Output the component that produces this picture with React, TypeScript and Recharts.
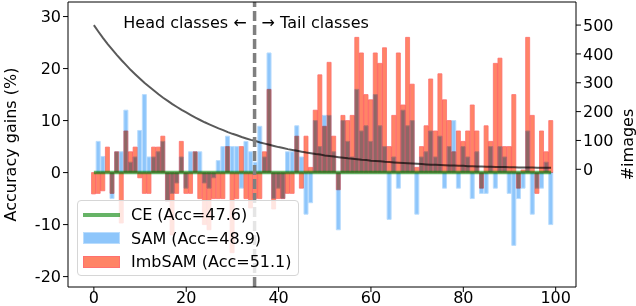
import React from 'react';
import { ComposedChart, Bar, Line, XAxis, YAxis, ReferenceLine } from 'recharts';

// per-class accuracy gains over CE (%)
const SAM_GAINS = [
  0, 6, 3.1, 0, -5, 4, 4, 12, 2, 3,
  8.1, 15, 3, 3, 4, 6, -5.5, -4, -2, 3,
  -3, 4, 4, 4, -2, -3, -1, 2.3, 5, 7,
  5, 5, -3, 6, 4, 2, 8.9, 3, 23, -5,
  -3, -5, 4, 4, 9, 3, -8, -5.8, 10, 5,
  11, 11, 4, -11, 10, 6, 3, 16, 8, 9,
  6, 15, 9, 5, -9, 3, -3, 12, 9, 10,
  -8, 3, 4, 8, 3, 7, -3, 5, 10, -3,
  5, 3, -5, 4, -4, -4, 5, -3, 5, 3,
  -4, -14, -5, -3, 8, -8, -3, -3, 2, -10,
];

const IMBSAM_GAINS = [
  -4.1, -4, -3.5, 4.9, -4, 4, -9.7, 8, 4, 4.9,
  -1, -4, -4, 4.9, 4.9, 7, -5.5, -12, -4, 6,
  -4, -4, 4, -5, -10, -11, -5, -5, -5, 5,
  -15.4, -5, 5, -5, -6.8, -5, -5, 4, 16, -7,
  -5, -5, -4, -4, 7, -3, 7, 1, 12, 18.8,
  8.9, 21.2, 7, -3.3, 11, 10, 11, 26, 23, 15,
  14, 23, 21, 24, 5, 11, 23, 13, 26, 17,
  1, 5, 9, 18, 8, 19, 14, 10, 4, 8,
  6, 8, 13, 8, -3, 9, 6, 21, 22, 5,
  5, 15, -3, 0.5, 26, 11, -4, 8, 4, 10,
];

// training images per class (long-tailed)
const IMAGES = [
  500, 477, 455, 434, 415, 396, 378, 361, 344, 329,
  314, 299, 286, 273, 260, 248, 237, 226, 216, 206,
  197, 188, 179, 171, 163, 156, 149, 142, 136, 129,
  123, 118, 112, 107, 102, 98, 93, 89, 85, 81,
  77, 74, 70, 67, 64, 61, 58, 56, 53, 51,
  48, 46, 44, 42, 40, 38, 37, 35, 33, 32,
  30, 29, 28, 26, 25, 24, 23, 22, 21, 20,
  19, 18, 17, 16, 16, 15, 14, 13, 13, 12,
  12, 11, 11, 10, 10, 9, 9, 8, 8, 8,
  7, 7, 6, 6, 6, 6, 5, 5, 5, 5,
];

const CE_GAIN = 0;
const DIVIDER_CLASS = 34.8;

const X_DOMAIN = [-5.6, 104.4];
const LEFT_DOMAIN = [-22, 32.8];
const RIGHT_DOMAIN = [-408, 580];
const X_TICKS = [0, 20, 40, 60, 80, 100];
const LEFT_TICKS = [-20, -10, 0, 10, 20, 30];
const RIGHT_TICKS = [0, 100, 200, 300, 400, 500];

const SAM_FILL = '#8ec6fb';
const SAM_EDGE = '#b9dcfd';
const IMB_FILL = '#ff8466';
const IMB_EDGE = '#ff7070';

const LEGEND_ITEMS = [
  { name: 'CE (Acc=47.6)', kind: 'line', color: 'rgba(0,128,0,0.6)' },
  { name: 'SAM (Acc=48.9)', kind: 'patch', color: SAM_FILL, edge: SAM_EDGE },
  { name: 'ImbSAM (Acc=51.1)', kind: 'patch', color: IMB_FILL, edge: IMB_EDGE },
];

const rows = SAM_GAINS.map((sam, i) => ({
  cls: i,
  sam,
  imb: IMBSAM_GAINS[i],
  ce: CE_GAIN,
  images: IMAGES[i],
}));

const FONT = '"DejaVu Sans", sans-serif';
const tickStyle = { fontSize: 16, fill: '#000', fontFamily: FONT };

const DividerLabel = (props: any) => {
  const { viewBox } = props;
  const x = viewBox.x;
  const y = viewBox.y + 26;
  return (
    <g fontFamily={FONT} fontSize={16} fill="#000">
      <text x={x - 8} y={y} textAnchor="end">Head classes ←</text>
      <text x={x + 7} y={y} textAnchor="start">→ Tail classes</text>
    </g>
  );
};

export default function App() {
  return (
    <div style={{ position: 'absolute', left: 0, top: 0, width: 636, height: 306, fontFamily: FONT, background: '#fff' }}>
      <style>{`.imb-bars .recharts-rectangle { mix-blend-mode: multiply; }`}</style>
      <ComposedChart width={636} height={306} data={rows} margin={{ top: 2, right: 0, bottom: 0, left: 0 }}>
        <XAxis
          xAxisId="x"
          dataKey="cls"
          type="number"
          domain={X_DOMAIN}
          ticks={X_TICKS}
          height={19}
          tickSize={5}
          tickMargin={0}
          tick={tickStyle}
          stroke="#000"
          axisLine={{ stroke: '#000' }}
          tickLine={{ stroke: '#000' }}
        />
        <XAxis
          xAxisId="x2"
          dataKey="cls"
          type="number"
          domain={X_DOMAIN}
          orientation="top"
          height={0}
          tick={false}
          tickLine={false}
          axisLine={false}
        />
        <YAxis
          yAxisId="left"
          type="number"
          domain={LEFT_DOMAIN}
          ticks={LEFT_TICKS}
          width={68}
          tickSize={5}
          tickMargin={2}
          tick={tickStyle}
          axisLine={{ stroke: '#000' }}
          tickLine={{ stroke: '#000' }}
          label={{ value: 'Accuracy gains (%)', angle: -90, position: 'center', dx: -24, fontSize: 16, fill: '#000' }}
        />
        <YAxis
          yAxisId="right"
          orientation="right"
          type="number"
          domain={RIGHT_DOMAIN}
          ticks={RIGHT_TICKS}
          width={60}
          tickSize={5}
          tickMargin={2}
          tick={tickStyle}
          axisLine={{ stroke: '#000' }}
          tickLine={{ stroke: '#000' }}
          label={{ value: '#images', angle: -90, position: 'center', dx: 21, fontSize: 16, fill: '#000' }}
        />
        <Bar
          xAxisId="x"
          yAxisId="left"
          dataKey="sam"
          barSize={4}
          fill={SAM_FILL}
          stroke={SAM_EDGE}
          strokeWidth={1}
          isAnimationActive={false}
        />
        <Bar
          xAxisId="x2"
          yAxisId="left"
          dataKey="imb"
          className="imb-bars"
          barSize={4}
          fill={IMB_FILL}
          stroke={IMB_EDGE}
          strokeWidth={0.8}
          isAnimationActive={false}
        />
        <Line
          xAxisId="x"
          yAxisId="left"
          dataKey="ce"
          type="linear"
          stroke="#008000"
          strokeOpacity={0.6}
          strokeWidth={3.5}
          dot={false}
          activeDot={false}
          isAnimationActive={false}
        />
        <Line
          xAxisId="x"
          yAxisId="right"
          dataKey="images"
          type="linear"
          stroke="#000"
          strokeOpacity={0.65}
          strokeWidth={2}
          dot={false}
          activeDot={false}
          isAnimationActive={false}
        />
        <ReferenceLine
          xAxisId="x"
          yAxisId="left"
          x={DIVIDER_CLASS}
          stroke="#7f7f7f"
          strokeWidth={3.5}
          strokeDasharray="10 4"
          label={<DividerLabel />}
        />
        {/* top frame of the axes box */}
        <ReferenceLine xAxisId="x" yAxisId="left" y={LEFT_DOMAIN[1]} stroke="#000" strokeWidth={1} />
      </ComposedChart>
      <div
        style={{
          position: 'absolute',
          left: 77,
          top: 200,
          width: 222,
          height: 76,
          boxSizing: 'border-box',
          background: 'rgba(255,255,255,0.8)',
          border: '1px solid #d6d6d6',
          borderRadius: 4,
        }}
      >
        {LEGEND_ITEMS.map((item, i) => (
          <div
            key={item.name}
            style={{
              position: 'absolute',
              left: 5,
              top: 2 + i * 23.5,
              height: 23.5,
              display: 'flex',
              alignItems: 'center',
              whiteSpace: 'nowrap',
              fontSize: 16,
              color: '#000',
            }}
          >
            {item.kind === 'line' ? (
              <div style={{ width: 37, height: 4, background: item.color }} />
            ) : (
              <div
                style={{
                  width: 37,
                  height: 12,
                  boxSizing: 'border-box',
                  background: item.color,
                  border: `1.5px solid ${item.edge}`,
                }}
              />
            )}
            <span style={{ marginLeft: 11 }}>{item.name}</span>
          </div>
        ))}
      </div>
    </div>
  );
}
